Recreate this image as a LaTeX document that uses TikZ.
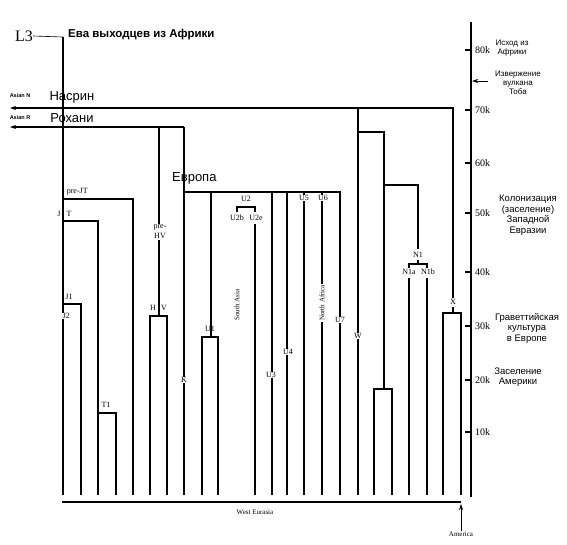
\documentclass[tikz,border=0pt]{standalone}
\usepackage{fontspec}
\setmainfont{Liberation Serif}
\newfontfamily\ruf{Liberation Sans}
\usetikzlibrary{arrows.meta}
\begin{document}
\begin{tikzpicture}[x=1pt,y=-1pt,
  tree/.style={line width=1.1pt},
  tip/.style={-{Stealth[length=6pt,width=4pt]}},
  lbl/.style={font=\fontsize{8}{8}\selectfont, inner sep=0.6pt},
  wlbl/.style={lbl, fill=white},
  rot/.style={font=\fontsize{7}{7}\selectfont, inner sep=0.6pt, fill=white, rotate=90},
  big/.style={font=\ruf\fontsize{13}{13}\selectfont, inner sep=0pt},
  side/.style={font=\ruf\fontsize{9.5}{10.5}\selectfont, align=center, inner sep=0pt},
  sides/.style={font=\ruf\fontsize{8}{9}\selectfont, align=center, inner sep=0pt},
  tiny/.style={font=\ruf\bfseries\fontsize{5.5}{5.5}\selectfont, inner sep=0pt},
  tick/.style={font=\fontsize{10}{10}\selectfont, anchor=west, inner sep=0pt}]
\useasboundingbox (0,0) rectangle (567,544);

% ---------- top ----------
\node[font=\fontsize{16}{16}\selectfont, inner sep=0pt] (L3) at (24,36) {L3};
\node[font=\ruf\bfseries\fontsize{11.5}{11.5}\selectfont, anchor=west, inner sep=0pt] (eva) at (68,35) {Ева выходцев из Африки};
\coordinate (root) at (63,37);
\draw[line width=0.6pt] (L3.east) -- (root);
\draw[tree] (root) -- (63,495);

% Nasrin line
\node[tiny] (asN) at (20,96) {Asian N};
\node[big] (nas) at (72,97) {Насрин};
\coordinate (Xtop) at (453,108);
\draw[tree,tip] (453,298) -- (Xtop) -- (10,108);
% Rokhani line
\node[tiny] (asR) at (20,118) {Asian R};
\node[big] (roh) at (72,118) {Рохани};
\coordinate (Kt) at (184,127);
\draw[tree,tip] (Kt) -- (10,127);

% ---------- J / T ----------
\draw[tree] (63,199) -- (133,199) -- (133,495);
\node[lbl, anchor=west] (preJT) at (66,192) {pre-JT};
\draw[tree] (63,221) -- (98,221) -- (98,495);
\node[lbl] (Jl) at (59,214) {J};
\node[lbl] (Tl) at (69,214) {T};
\draw[tree] (98,413) -- (116,413) -- (116,495);
\node[lbl] (T1) at (106,405) {T1};
\draw[tree] (63,304) -- (81,304) -- (81,495);
\node[lbl] (J1) at (69,297) {J1};
\node[wlbl, anchor=west] (J2) at (62,316) {J2};

% ---------- H / V ----------
\draw[tree] (159,127) -- (159,316);
\draw[tree] (150,495) -- (150,316) -- (167,316) -- (167,495);
\node[wlbl, align=center] (preHV) at (160,232) {pre-\\[2pt]HV};
\node[lbl] (Hl) at (153,308) {H};
\node[lbl] (Vl) at (164,308) {V};

% ---------- Europe ----------
\node[big, anchor=west] (eur) at (172,178) {Европа};
\draw[tree] (Kt) -- (184,495);
\node[wlbl] (Kl) at (184,380) {K};
\draw[tree] (184,192) -- (340,192) -- (340,495);
\node[wlbl] (U7) at (340,320) {U7};
\draw[tree] (211,192) -- (211,337);
\draw[tree] (202,495) -- (202,337) -- (218,337) -- (218,495);
\node[lbl] (U1) at (210,329) {U1};
\draw[tree] (237,212) -- (237,207) -- (255,207) -- (255,212);
\node[lbl] (U2) at (246,199) {U2};
\node[lbl] (U2b) at (237,218) {U2b};
\node[lbl] (U2e) at (256,218) {U2e};
\draw[tree] (255,224) -- (255,495);
\node[rot] (SA) at (237,305) {South Asia};
\draw[tree] (272,192) -- (272,495);
\node[wlbl] (U3) at (271,375) {U3};
\draw[tree] (287,192) -- (287,495);
\node[wlbl] (U4) at (288,352) {U4};
\draw[tree] (304,192) -- (304,495);
\node[wlbl] (U5) at (304,198) {U5};
\draw[tree] (322,192) -- (322,495);
\node[wlbl] (U6) at (323,198) {U6};
\node[rot] (NA) at (322,303) {North Africa};

% ---------- W / N / X ----------
\draw[tree] (358,108) -- (358,495);
\node[wlbl] (Wl) at (358,336) {W};
\draw[tree] (358,132) -- (384,132) -- (384,389);
\draw[tree] (374,495) -- (374,389) -- (392,389) -- (392,495);
\draw[tree] (384,185) -- (418,185) -- (418,249);
\node[lbl] (N1) at (418,255) {N1};
\draw[tree] (418,260) -- (418,264);
\draw[tree] (409,268) -- (409,264) -- (427,264) -- (427,268);
\node[lbl] (N1a) at (409,272) {N1a};
\node[lbl] (N1b) at (428,272) {N1b};
\draw[tree] (409,278) -- (409,495);
\draw[tree] (427,278) -- (427,495);
\node[lbl] (Xl) at (453,302) {X};
\draw[tree] (453,307) -- (453,313);
\draw[tree] (443,495) -- (443,313) -- (461,313) -- (461,495);

% ---------- bottom ----------
\draw[tree] (62,502) -- (461,502);
\node[font=\fontsize{7}{7}\selectfont, inner sep=0pt] (WE) at (255,512) {West Eurasia};
\node[font=\fontsize{7}{7}\selectfont, inner sep=0pt] (Am) at (461,534) {America};
\draw[line width=0.7pt,tip] (Am.north) -- (461,504);

% ---------- time axis ----------
\draw[tree] (471,22) -- (471,497);
\foreach \y/\t in {50/80k,110/70k,163/60k,213/50k,272/40k,326/30k,380/20k,432/10k}{
  \draw[tree] (465,\y) -- (471,\y);
  \node[tick] at (475,\y) {\t};
}
\coordinate (toba) at (472,81);
\draw[line width=0.8pt,tip] (488,81) -- (toba);

\node[sides] (out) at (512,48) {Исход из\\Африки};
\node[sides] (tob) at (518,83) {Извержение\\вулкана\\Тоба};
\node[side] (col) at (528,215) {Колонизация\\(заселение)\\Западной\\Евразии};
\node[side] (grav) at (527,328) {Граветтийская\\культура\\в Европе};
\node[side] (amer) at (518,377) {Заселение\\Америки};
\end{tikzpicture}
\end{document}
